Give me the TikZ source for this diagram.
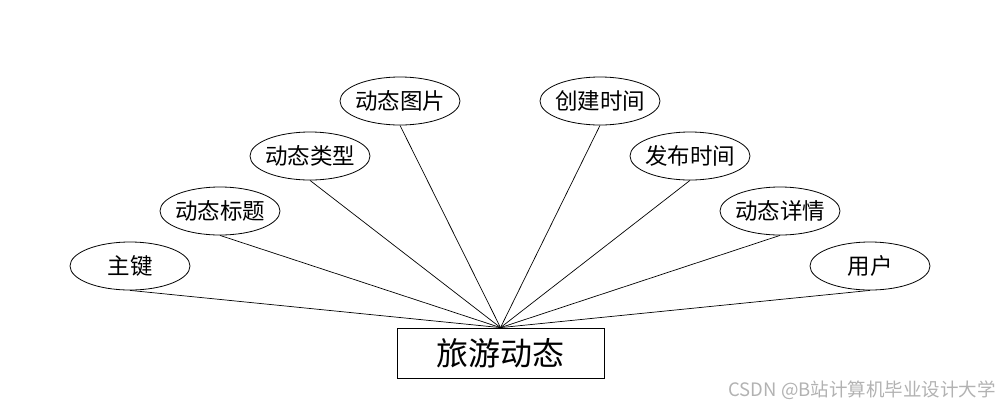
\documentclass[tikz,border=0pt]{standalone}
\usepackage{fontspec}
\newfontfamily\cjk{Noto Sans CJK SC}
\usetikzlibrary{shapes.geometric}
\newcommand\attrtxt[1]{\makebox[40pt]{#1}}
\begin{document}
\begin{tikzpicture}[x=1pt,y=-1pt,
  attr/.style={ellipse,draw,line width=0.8pt,minimum width=120pt,minimum height=48pt,inner sep=0pt,font=\cjk\fontsize{22.5}{24}\selectfont},
  ent/.style={rectangle,draw,line width=0.8pt,minimum width=207pt,minimum height=50pt,inner sep=0pt,font=\cjk\fontsize{32}{34}\selectfont},
  link/.style={line width=0.7pt}]
\useasboundingbox (0,0) rectangle (1000,408);
\node[ent] (e) at (500.5,353) {旅游动态};
\node[attr] (a1) at (130,266) {\attrtxt{主键}};
\node[attr] (a2) at (220,211) {\attrtxt{动态标题}};
\node[attr] (a3) at (310,156) {\attrtxt{动态类型}};
\node[attr] (a4) at (400,101) {\attrtxt{动态图片}};
\node[attr] (a5) at (600,101) {\attrtxt{创建时间}};
\node[attr] (a6) at (690,156) {\attrtxt{发布时间}};
\node[attr] (a7) at (780,211) {\attrtxt{动态详情}};
\node[attr] (a8) at (870,266) {\attrtxt{用户}};
\foreach \i in {1,...,8} {\draw[link] (a\i.south) -- (e.north);}
\node[anchor=east,text=black!30,font=\cjk\fontsize{18.5}{20}\selectfont,inner sep=0pt] (wm) at (996,390) {CSDN @B站计算机毕业设计大学};
\end{tikzpicture}
\end{document}
